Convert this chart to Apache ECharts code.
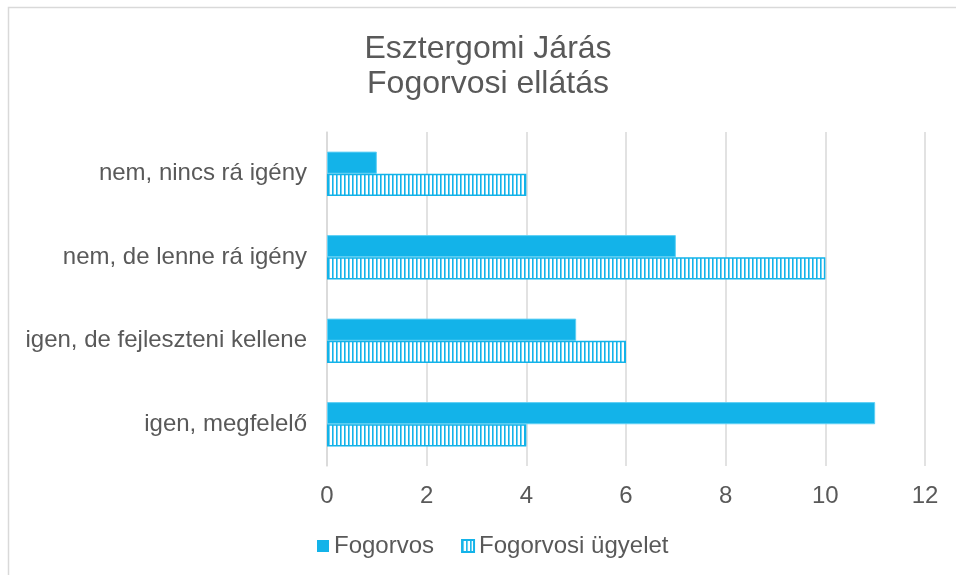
<!DOCTYPE html>
<html>
<head>
<meta charset="utf-8">
<script src="https://cdn.jsdelivr.net/npm/echarts@6/dist/echarts.min.js"></script>
<style>
  html, body { margin: 0; padding: 0; background: #fff; }
  #chart { width: 956px; height: 575px; }
</style>
</head>
<body>
<div id="chart"></div>
<script>
// kategóriák felülről lefelé
const categories = ['nem, nincs rá igény', 'nem, de lenne rá igény', 'igen, de fejleszteni kellene', 'igen, megfelelő']
const fogorvos = [1, 7, 5, 11]
const ugyelet = [4, 10, 6, 4]
const seriesNames = ['Fogorvos', 'Fogorvosi ügyelet']

const BLUE = '#13b3e9'
const TEXT = '#595959'

// függőleges csíkos minta az ügyelet sávokhoz
function stripePattern() {
  const c = document.createElement('canvas')
  c.width = 4
  c.height = 4
  const ctx = c.getContext('2d')
  ctx.fillStyle = '#fff'
  ctx.fillRect(0, 0, 4, 4)
  ctx.fillStyle = BLUE
  ctx.fillRect(0, 0, 1.6, 4)
  return { image: c, repeat: 'repeat' }
}

const chart = echarts.init(document.getElementById('chart'))
chart.setOption({
  animation: false,
  textStyle: { fontFamily: 'Arial, "Liberation Sans", sans-serif' },
  title: {
    text: 'Esztergomi Járás\nFogorvosi ellátás',
    left: 483, top: 27, textAlign: 'center',
    textStyle: { color: TEXT, fontSize: 32, fontWeight: 'normal', lineHeight: 35 },
  },
  graphic: [{
    type: 'rect', left: 6, top: 5,
    shape: { width: 1000, height: 700 },
    style: { fill: 'none', stroke: '#d9d9d9', lineWidth: 1.5 },
    silent: true, z: -1,
  }],
  legend: {
    bottom: 12, left: 312, itemGap: 27,
    itemWidth: 12, itemHeight: 12,
    textStyle: { color: TEXT, fontSize: 24 },
    data: [
      { name: seriesNames[0], icon: 'rect', itemStyle: { borderWidth: 0 } },
      { name: seriesNames[1], icon: 'rect' },
    ],
  },
  grid: { left: 327, right: 31, top: 132, bottom: 109 },
  xAxis: {
    type: 'value', min: 0, max: 12, interval: 2,
    axisLine: { show: false }, axisTick: { show: false },
    splitLine: { lineStyle: { color: '#d9d9d9', width: 1.5 } },
    axisLabel: { color: TEXT, fontSize: 24, margin: 18 },
  },
  yAxis: {
    type: 'category', data: categories, inverse: true,
    axisLine: { lineStyle: { color: '#d9d9d9', width: 1.5 } },
    axisTick: { show: false },
    axisLabel: { color: TEXT, fontSize: 24, margin: 20 },
  },
  series: [
    {
      name: seriesNames[0], type: 'bar', data: fogorvos,
      barGap: '0%', barCategoryGap: '47%',
      itemStyle: { color: BLUE, borderColor: '#5fd0f5', borderWidth: 1 },
    },
    {
      name: seriesNames[1], type: 'bar', data: ugyelet,
      itemStyle: { color: stripePattern(), borderColor: BLUE, borderWidth: 1.5 },
    },
  ],
})
</script>
</body>
</html>
